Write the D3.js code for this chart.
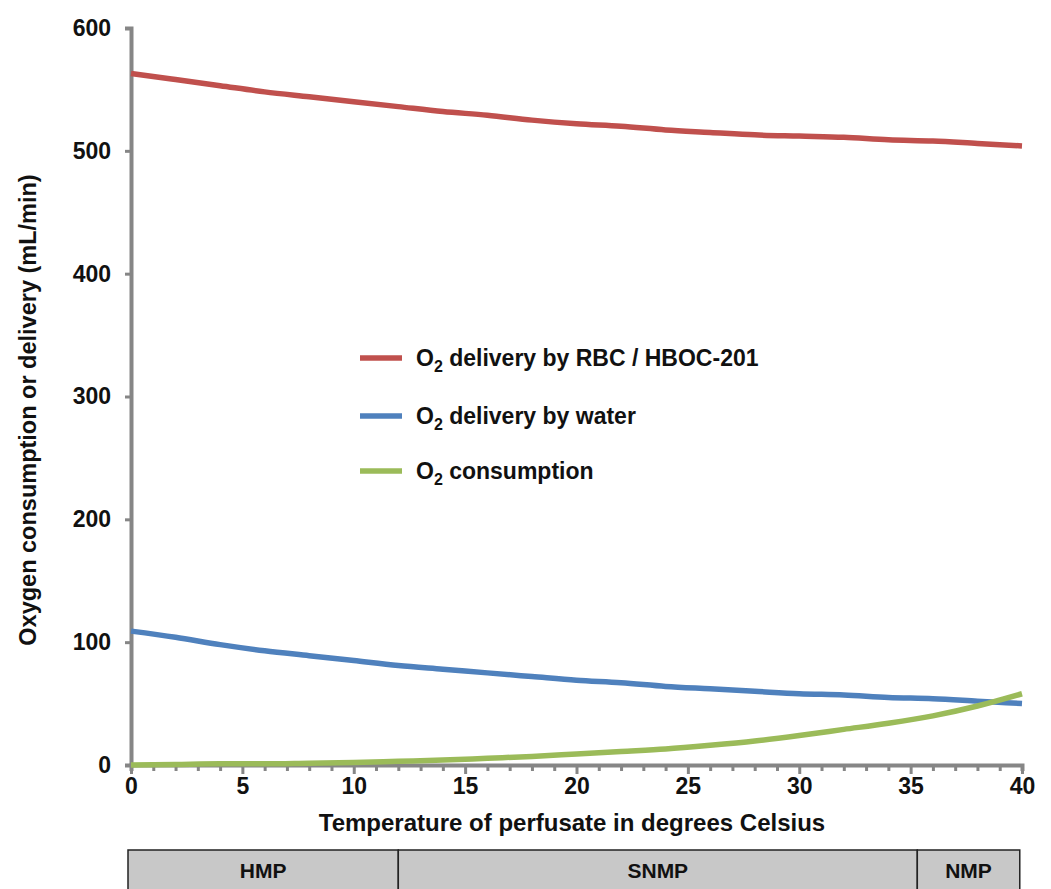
<!DOCTYPE html>
<html>
<head>
<meta charset="utf-8">
<script src="https://cdn.jsdelivr.net/npm/d3@7"></script>
<style>
  body { margin: 0; background: #fff; }
  #chart { width: 1051px; height: 889px; }
  text { font-family: "Liberation Sans", Arial, sans-serif; font-weight: bold; fill: #111; }
</style>
</head>
<body>
<div id="chart"></div>
<script>
// values, every 2 degrees
const temps = [0, 2, 4, 6, 8, 10, 12, 14, 16, 18, 20, 22, 24, 26, 28, 30, 32, 34, 36, 38, 40];
const rbcDelivery   = [563, 558, 553, 548, 544, 540, 536, 532, 529, 525, 522, 520, 517, 515, 513, 512, 511, 509, 508, 506, 504];
const waterDelivery = [109, 104, 98, 93, 89, 85, 81, 78, 75, 72, 69, 67, 64, 62, 60, 58, 57, 55, 54, 52, 50];
const consumption   = [0, 0.5, 1, 1, 1.5, 2, 3, 4, 5.5, 7, 9, 11, 13, 16, 19.5, 24, 29, 34, 40, 48, 58];

const seriesNames = ['delivery by RBC / HBOC-201', 'delivery by water', 'consumption'];
const seriesColors = ['#c0504d', '#4f81bd', '#9bbb59'];

const yTicks = [0, 100, 200, 300, 400, 500, 600];
const xTicks = [0, 5, 10, 15, 20, 25, 30, 35, 40];

const phaseNames = ['HMP', 'SNMP', 'NMP'];
const phaseStart = [0, 12, 35.3];
const phaseEnd   = [12, 35.3, 39.9];

const svg = d3.select('#chart').append('svg')
  .attr('width', 1051)
  .attr('height', 889);

const x = d3.scaleLinear().domain([0, 40]).range([131, 1022]);
const y = d3.scaleLinear().domain([0, 600]).range([765, 28]);

const axisColor = '#868686';

// y axis
const yAxis = svg.append('g')
  .attr('transform', `translate(${x(0)},0)`)
  .call(d3.axisLeft(y).tickValues(yTicks).tickSize(6).tickPadding(14));
yAxis.select('.domain').attr('stroke', axisColor).attr('stroke-width', 4);
yAxis.selectAll('.tick line').attr('stroke', axisColor).attr('stroke-width', 3);
yAxis.selectAll('.tick text').style('font-size', '23px').attr('fill', '#111');

// x axis: minor ticks each degree
const xAxis = svg.append('g')
  .attr('transform', `translate(0,${y(0)})`)
  .call(d3.axisBottom(x).tickValues(d3.range(0, 41)).tickSize(6)
    .tickFormat(d => xTicks.includes(d) ? d : ''));
xAxis.select('.domain').attr('stroke', axisColor).attr('stroke-width', 4);
xAxis.selectAll('.tick line').attr('stroke', axisColor).attr('stroke-width', 3)
  .attr('y2', d => xTicks.includes(d) ? 9 : 6);
xAxis.selectAll('.tick text').style('font-size', '23px').attr('fill', '#111').attr('y', 13);

// axis titles
svg.append('text')
  .attr('x', 572)
  .attr('y', 831)
  .attr('text-anchor', 'middle')
  .style('font-size', '24px')
  .text('Temperature of perfusate in degrees Celsius');

svg.append('text')
  .attr('transform', 'rotate(-90)')
  .attr('x', -410)
  .attr('y', 36)
  .attr('text-anchor', 'middle')
  .style('font-size', '23.5px')
  .text('Oxygen consumption or delivery (mL/min)');

// lines
const allSeries = [rbcDelivery, waterDelivery, consumption];
const line = d3.line()
  .x((d, i) => x(temps[i]))
  .y(d => y(d))
  .curve(d3.curveMonotoneX);

svg.selectAll('.series')
  .data(allSeries)
  .enter().append('path')
    .attr('class', 'series')
    .attr('d', d => line(d))
    .attr('fill', 'none')
    .attr('stroke', (d, i) => seriesColors[i])
    .attr('stroke-width', 5.5);

// legend
const legend = svg.append('g').attr('transform', 'translate(360,358)');
seriesNames.forEach((name, i) => {
  const yy = [0, 58, 113][i];
  legend.append('line')
    .attr('x1', 0).attr('x2', 42)
    .attr('y1', yy).attr('y2', yy)
    .attr('stroke', seriesColors[i])
    .attr('stroke-width', 5.5);
  const t = legend.append('text')
    .attr('x', 56)
    .attr('y', yy + 8)
    .style('font-size', '23px');
  t.append('tspan').text('O');
  t.append('tspan').attr('dy', 6).style('font-size', '16px').text('2');
  t.append('tspan').attr('dy', -6).text(' ' + name);
});

// phase band below the axis
const bandTop = 850, bandHeight = 45;
const band = svg.append('g');
phaseNames.forEach((name, i) => {
  const x0 = i === 0 ? 128 : x(phaseStart[i]);
  const x1 = x(phaseEnd[i]);
  band.append('rect')
    .attr('x', x0).attr('y', bandTop)
    .attr('width', x1 - x0).attr('height', bandHeight)
    .attr('fill', '#c8c8c8')
    .attr('stroke', '#222')
    .attr('stroke-width', 1.5);
  band.append('text')
    .attr('x', (x0 + x1) / 2)
    .attr('y', bandTop + 28)
    .attr('text-anchor', 'middle')
    .style('font-size', '21px')
    .text(name);
});
</script>
</body>
</html>
